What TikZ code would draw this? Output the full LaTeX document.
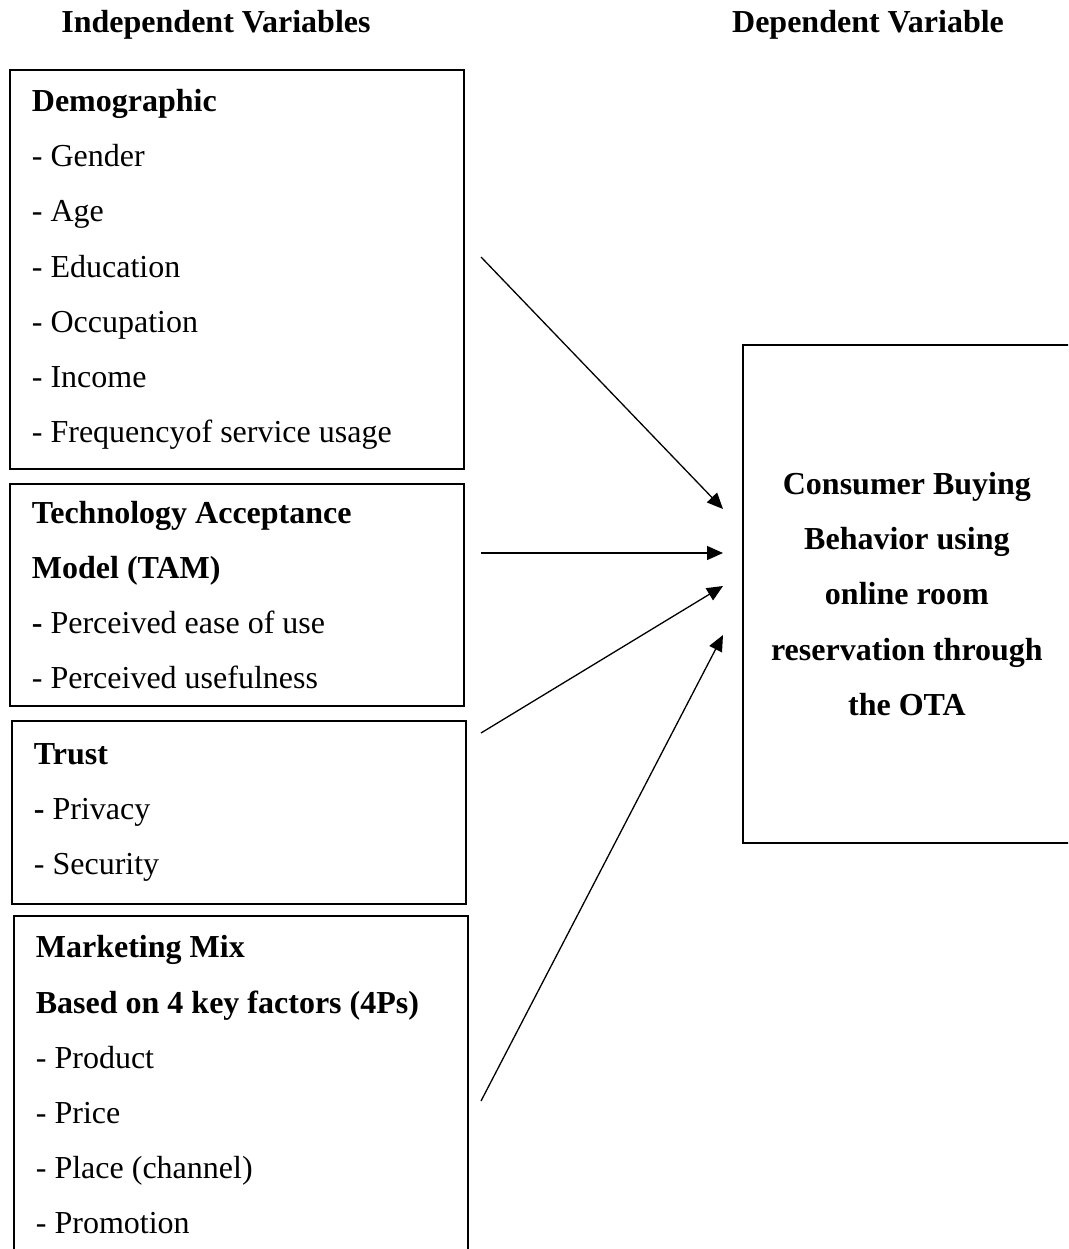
\documentclass[tikz,border=0pt]{standalone}
\usepackage{fontspec}
\setmainfont{Liberation Serif}
\usetikzlibrary{arrows.meta}

\tikzset{
    varbox/.style={draw, line width=1.8pt, align=flush left, anchor=north west,
        inner xsep=22pt, inner ysep=0pt, font=\fontsize{32}{55.2}\selectfont},
    depbox/.style={draw, line width=1.8pt, align=flush center, anchor=north west,
        inner xsep=8pt, inner ysep=0pt, font=\fontsize{32}{55.2}\selectfont\bfseries},
    header/.style={anchor=base, font=\fontsize{32}{38}\selectfont\bfseries},
    link/.style={line width=1.3pt, -{Triangle[length=16pt,width=14pt]}}
}

\begin{document}
\begin{tikzpicture}[x=1pt, y=-1pt]
    \useasboundingbox (0,0) rectangle (1068,1249);
    \clip (0,0) rectangle (1068,1249);

    \node[header] (indep) at (216,33) {Independent Variables};
    \node[header] (dep) at (868,33) {Dependent Variable};

    \node[varbox, text width=410pt, minimum height=399pt] (demo) at (9,69)
        {\textbf{Demographic}\\- Gender\\- Age\\- Education\\- Occupation\\- Income\\- Frequencyof service usage};
    \node[varbox, text width=410pt, minimum height=222pt] (tam) at (9,483)
        {\textbf{Technology Acceptance}\\\textbf{Model (TAM)}\\\textbf{-} Perceived ease of use\\- Perceived usefulness};
    \node[varbox, text width=410pt, minimum height=183pt] (trust) at (11,720)
        {\textbf{Trust}\\\textbf{-} Privacy\\- Security};
    \node[varbox, text width=410pt, minimum height=338pt] (mix) at (13,915)
        {\textbf{Marketing Mix}\\\textbf{Based on 4 key factors (4Ps)}\\- Product\\- Price\\- Place (channel)\\- Promotion};

    \node[depbox, text width=312pt, minimum width=328pt, minimum height=498pt] (behav) at (742,344)
        {Consumer Buying\\Behavior using\\online room\\reservation through\\the OTA};

    \coordinate (s1) at (481,257);
    \coordinate (s2) at (481,553);
    \coordinate (s3) at (481,733);
    \coordinate (s4) at (481,1101);
    \coordinate (e1) at (723,509);
    \coordinate (e2) at (723,553);
    \coordinate (e3) at (723,586);
    \coordinate (e4) at (723,635);

    \draw[link] (s1) -- (e1);
    \draw[link] (s2) -- (e2);
    \draw[link] (s3) -- (e3);
    \draw[link] (s4) -- (e4);
\end{tikzpicture}
\end{document}
